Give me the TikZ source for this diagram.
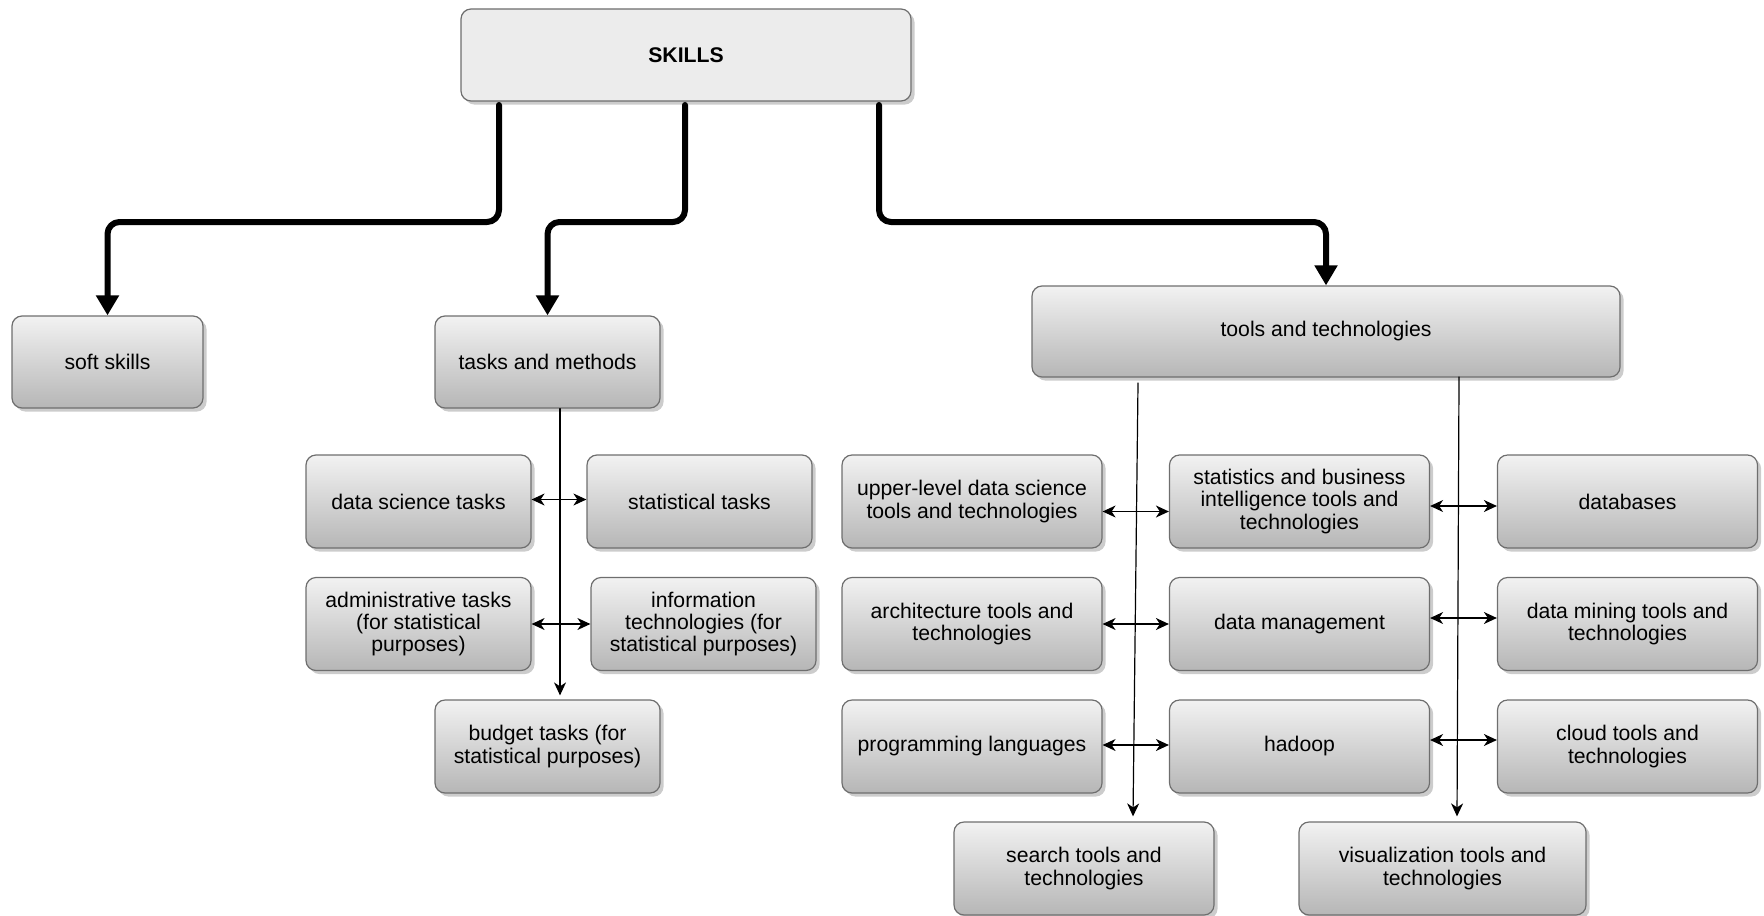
\documentclass[tikz,border=0pt]{standalone}
\usepackage{fontspec}
\setmainfont{Liberation Sans}
\usepackage{xcolor}
\usepackage{tikz}
\usetikzlibrary{calc, arrows.meta, shadows, positioning}

\definecolor{edgegray}{HTML}{6E6E6E}
\definecolor{boxtop}{HTML}{F2F2F2}
\definecolor{boxbot}{HTML}{B6B6B6}
\definecolor{headfill}{HTML}{ECECEC}

\begin{document}
\begin{tikzpicture}[x=0.5pt, y=-0.5pt, line join=round, line cap=round,
    box/.style={draw=edgegray, line width=0.6pt, rounded corners=5pt,
        top color=boxtop, bottom color=boxbot, align=center,
        drop shadow={shadow xshift=1.8pt, shadow yshift=-1.8pt, fill=black!40, opacity=0.5},
        font=\fontsize{10.6}{11.2}\selectfont, inner sep=2pt,
        minimum width=112.5pt, minimum height=46.5pt},
    widebox/.style={box, minimum width=130pt},
    bigarrow/.style={line width=3pt, rounded corners=6pt,
        -{Triangle[width=11pt, length=10pt]}},
    link/.style={line width=0.6pt, -{Stealth[length=6.5pt, width=6pt, inset=2pt]}},
    dlink/.style={line width=0.6pt, {Stealth[length=6.5pt, width=6pt, inset=2pt]}-{Stealth[length=6.5pt, width=6pt, inset=2pt]}}]

        \useasboundingbox (0,0) rectangle (1764,915);

        % =========================
        % TOP LEVEL
        % =========================
        \node[box, fill=headfill, top color=headfill, bottom color=headfill,
              minimum width=225pt, minimum height=46pt,
              font=\fontsize{10.6}{11.2}\selectfont\bfseries]
            (SK) at (686,55) {SKILLS};

        \node[box, minimum width=95.5pt, minimum height=46pt] (SS) at (107.5,362) {soft skills};
        \node[box, minimum height=46pt] (TM) at (547.5,362) {tasks and methods};
        \node[box, minimum width=294pt, minimum height=45.5pt] (TT) at (1326,331.5) {tools and technologies};

        % =========================
        % TASKS AND METHODS
        % =========================
        \node[box] (DST) at (418.5,501.5) {data science tasks};
        \node[box] (STT) at (699.5,501.5) {statistical tasks};
        \node[box] (ADM) at (418.5,624) {administrative tasks\\(for statistical\\purposes)};
        \node[box] (INF) at (703.5,624) {information\\technologies (for\\statistical purposes)};
        \node[box] (BUD) at (547.5,746.5) {budget tasks (for\\statistical purposes)};

        % =========================
        % TOOLS AND TECHNOLOGIES
        % =========================
        \node[widebox] (UPL) at (972,501.5) {upper-level data science\\tools and technologies};
        \node[widebox] (SBI) at (1299.5,501.5) {statistics and business\\intelligence tools and\\technologies};
        \node[widebox] (DBS) at (1627.5,501.5) {databases};

        \node[widebox] (ARC) at (972,624) {architecture tools and\\technologies};
        \node[widebox] (DMG) at (1299.5,624) {data management};
        \node[widebox] (DMN) at (1627.5,624) {data mining tools and\\technologies};

        \node[widebox] (PRG) at (972,746.5) {programming languages};
        \node[widebox] (HAD) at (1299.5,746.5) {hadoop};
        \node[widebox] (CLD) at (1627.5,746.5) {cloud tools and\\technologies};

        \node[widebox] (SEA) at (1084,868.5) {search tools and\\technologies};
        \node[widebox, minimum width=143.5pt] (VIS) at (1442.5,868.5) {visualization tools and\\technologies};

        % =========================
        % THICK ARROWS FROM SKILLS
        % =========================
        \coordinate (K1) at (499,105);
        \coordinate (K2) at (685,105);
        \coordinate (K3) at (879,105);

        \draw[bigarrow]
            (K1) -- ++(0,117) -| (SS.north);

        \draw[bigarrow]
            (K2) -- ++(0,117) -| (TM.north);

        \draw[bigarrow]
            (K3) -- ++(0,117) -| (TT.north);

        % =========================
        % THIN LINKS
        % =========================
        \draw[link]
            ($(TM.south)+(12.5,0)$) -- ($(BUD.north)+(12.5,-4)$);

        \draw[dlink] ($(DST.east)+(0,-2)$) -- ($(STT.west)+(0,-2)$);
        \draw[dlink] (ADM.east) -- (ADM.east -| INF.west);

        \coordinate (T1) at (1138,383);
        \coordinate (T2) at (1459,377);

        \draw[link]
            (T1) -- ($(SEA.north)+(49,-5)$);

        \draw[link]
            (T2) -- ($(VIS.north)+(14.5,-5)$);

        \draw[dlink] ($(UPL.east)+(0,10)$) -- ($(SBI.west)+(0,10)$);
        \draw[dlink] ($(SBI.east)+(0,4.5)$) -- ($(DBS.west)+(0,4.5)$);
        \draw[dlink] (ARC.east) -- (DMG.west);
        \draw[dlink] ($(DMG.east)+(0,-6)$) -- ($(DMN.west)+(0,-6)$);
        \draw[dlink] ($(PRG.east)+(0,-1.5)$) -- ($(HAD.west)+(0,-1.5)$);
        \draw[dlink] ($(HAD.east)+(0,-6.5)$) -- ($(CLD.west)+(0,-6.5)$);

    \end{tikzpicture}
\end{document}
